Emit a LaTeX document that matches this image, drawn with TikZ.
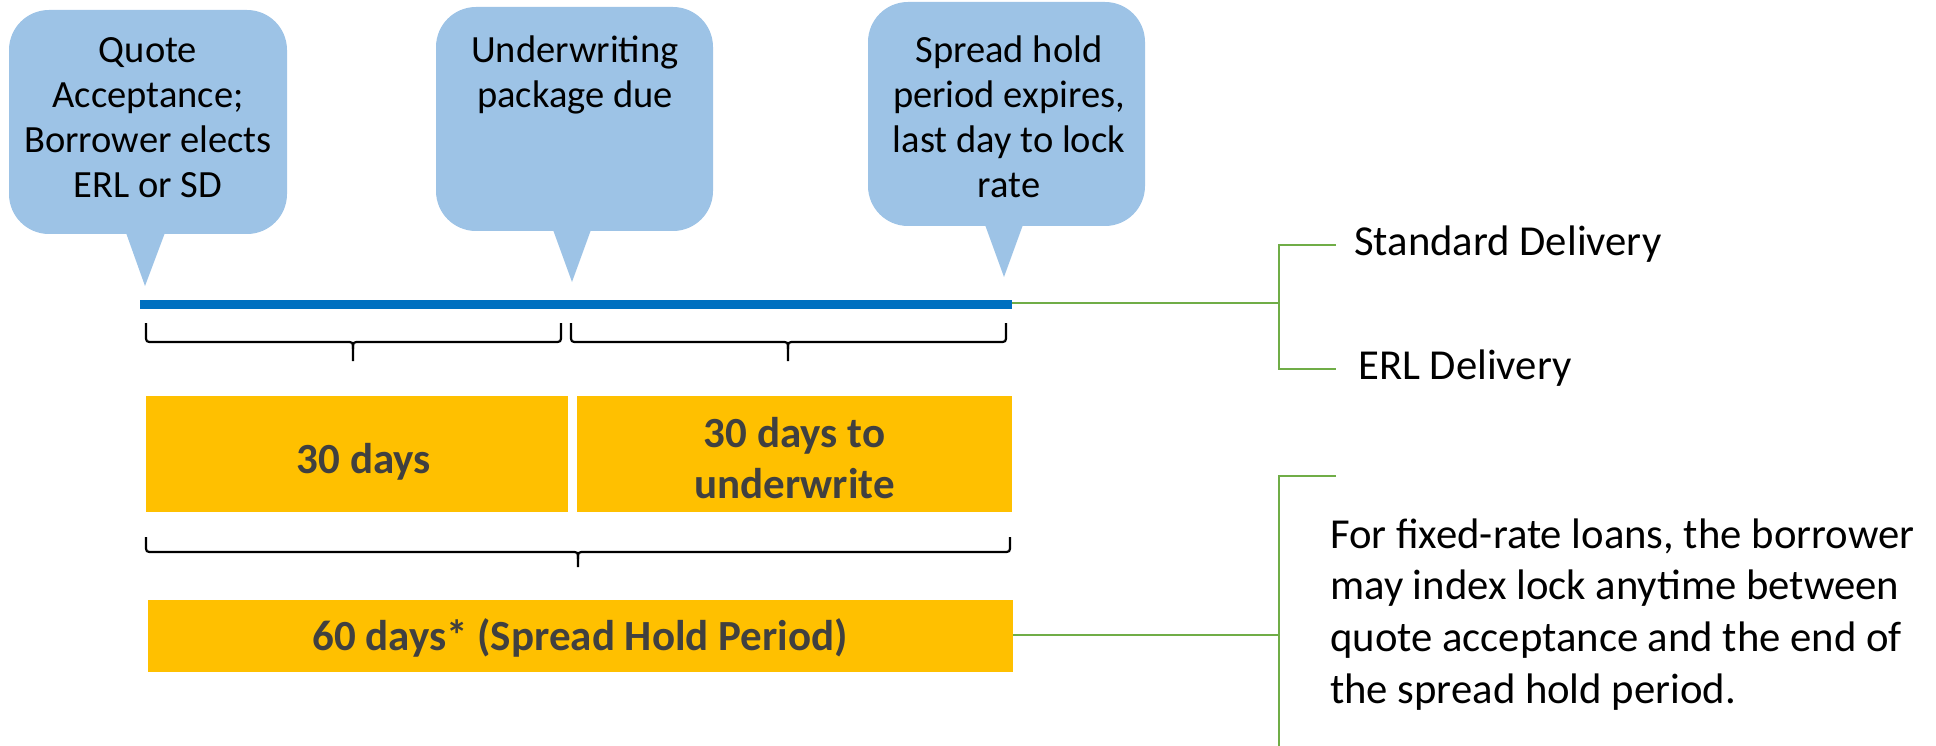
\documentclass[tikz,border=0pt]{standalone}
\usepackage{fontspec}
\setmainfont{Carlito}
\definecolor{callfill}{HTML}{9DC3E6}
\definecolor{lineblue}{HTML}{0070C0}
\definecolor{barorange}{HTML}{FFC000}
\definecolor{bartext}{HTML}{404040}
\definecolor{linegreen}{HTML}{70AD47}
\tikzset{
  bubble/.style={fill=callfill, draw=none, rounded corners=40pt, inner sep=0pt},
  tailfill/.style={fill=callfill, draw=none},
  bubbletext/.style={align=center, inner sep=0pt, anchor=north, font=\fontsize{38.5}{45}\selectfont},
  bar/.style={fill=barorange, draw=none, inner sep=0pt},
  bartxt/.style={inner sep=0pt, text=bartext, font=\fontsize{43}{51}\selectfont\bfseries},
  timeline/.style={draw=lineblue, line width=9pt},
  gline/.style={draw=linegreen, line width=1.2pt},
  bracestyle/.style={draw=black, line width=2.2pt, line join=round},
  sidetxt/.style={inner sep=0pt, font=\fontsize{42.7}{51.7}\selectfont},
}
\begin{document}
\begin{tikzpicture}[x=1pt,y=-1pt]
\useasboundingbox (0,0) rectangle (1936,746);
% callouts
\node[bubble, minimum width=278pt, minimum height=224pt] (b1) at (148,122) {};
\fill[tailfill] (125,230) -- (166,230) -- (145,286) -- cycle;
\node[bubbletext] (t1) at (148,31) {\strut Quote\\Acceptance;\\Borrower elects\\ERL or SD};

\node[bubble, minimum width=277pt, minimum height=224pt] (b2) at (574.5,119) {};
\fill[tailfill] (552,227) -- (592,227) -- (572,282) -- cycle;
\node[bubbletext] (t2) at (575,31) {\strut Underwriting\\package due};

\node[bubble, minimum width=277pt, minimum height=224pt] (b3) at (1006.5,114) {};
\fill[tailfill] (984,222) -- (1024,222) -- (1004,277) -- cycle;
\node[bubbletext] (t3) at (1009,31) {\strut Spread hold\\period expires,\\last day to lock\\rate};

% timeline
\coordinate (tl0) at (140,304.5);
\coordinate (tl1) at (1012,304.5);
\draw[timeline] (tl0) -- (tl1);

% braces
\draw[bracestyle] (146,323) -- (146,335) .. controls (146,342) .. (153,342) -- (346,342) .. controls (353,342) .. (353,349) -- (353,361);
\draw[bracestyle] (561,323) -- (561,335) .. controls (561,342) .. (554,342) -- (360,342) .. controls (353,342) .. (353,349);
\draw[bracestyle] (571,323) -- (571,335) .. controls (571,342) .. (578,342) -- (781,342) .. controls (788,342) .. (788,349) -- (788,361);
\draw[bracestyle] (1006,323) -- (1006,335) .. controls (1006,342) .. (999,342) -- (795,342) .. controls (788,342) .. (788,349);
\draw[bracestyle] (146,537) -- (146,545) .. controls (146,552) .. (153,552) -- (571,552) .. controls (578,552) .. (578,559) -- (578,567);
\draw[bracestyle] (1010,537) -- (1010,545) .. controls (1010,552) .. (1003,552) -- (585,552) .. controls (578,552) .. (578,559);

% bars
\node[bar, minimum width=422pt, minimum height=116pt] (p1) at (357,454) {};
\node[bartxt, anchor=base] (p1t) at (364,473) {30 days};
\node[bar, minimum width=435pt, minimum height=116pt] (p2) at (794.5,454) {};
\node[bartxt, align=center, anchor=north] (p2t) at (794.5,411.3) {\strut 30 days to\\underwrite};
\node[bar, minimum width=865pt, minimum height=72pt] (p3) at (580.5,636) {};
\node[bartxt, anchor=base] (p3t) at (580,650) {60 days* (Spread Hold Period)};

% right side labels
\node[sidetxt, anchor=base west] (sd) at (1354,255) {Standard Delivery};
\node[sidetxt, anchor=base west] (erl) at (1358,379) {ERL Delivery};
\node[sidetxt, align=left, anchor=north west] (note) at (1330,511.8) {\strut For fixed-rate loans, the borrower\\may index lock anytime between\\quote acceptance and the end of\\the spread hold period.};

% green connectors
\coordinate (g1) at (1279,303);
\coordinate (sdt) at (1336,245);
\coordinate (erlt) at (1336,369);
\draw[gline] (tl1) ++(0,-1.5) -- (g1);
\draw[gline] (sdt) -| (g1) |- (erlt);
\coordinate (g2s) at (1013,635);
\coordinate (g2) at (1279,635);
\coordinate (nt) at (1336,476);
\coordinate (nb) at (1279,746);
\draw[gline] (g2s) -- (g2);
\draw[gline] (nt) -| (nb);
\end{tikzpicture}
\end{document}
